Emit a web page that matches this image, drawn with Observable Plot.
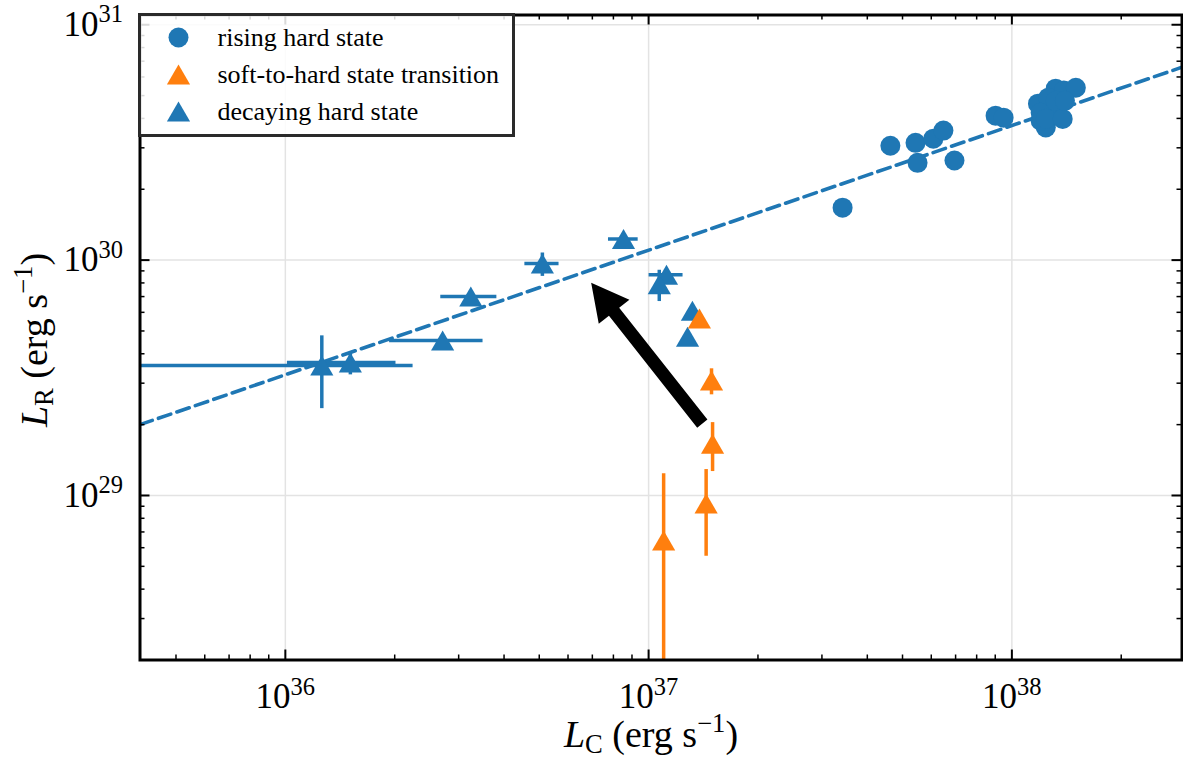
<!DOCTYPE html>
<html><head><meta charset="utf-8">
<script src="https://cdn.jsdelivr.net/npm/d3@7"></script>
<script src="https://cdn.jsdelivr.net/npm/@observablehq/plot@0.6"></script>
<style>body{margin:0;background:#fff} svg{display:block}</style>
</head><body><div id="chart"></div>
<script>
// ---- data ----
const risingLC = [3.42e37,4.63e37,5.43e37,5.50e37,6.08e37,6.48e37,6.95e37,9.02e37,9.49e37,
  1.18e38,1.24e38,1.20e38,1.32e38,1.39e38,1.50e38,1.34e38,1.28e38,1.26e38,1.20e38,1.32e38,1.24e38,1.38e38,1.40e38];
const risingLR = [1.67e30,3.06e30,3.15e30,2.59e30,3.28e30,3.55e30,2.65e30,4.11e30,4.03e30,
  4.62e30,3.66e30,3.91e30,5.35e30,5.25e30,5.40e30,4.11e30,4.40e30,4.90e30,4.23e30,4.75e30,3.99e30,3.98e30,4.75e30];

const decayLC  = [1.26e36,1.51e36,2.71e36,3.24e36,5.10e36,8.53e36,1.12e37,1.07e37,1.32e37,1.28e37];
const decayLCe = [0.98e36,0.50e36,0.78e36,0.57e36,0.55e36,0.80e36,0.12e37,0,0,0];
const decayLR  = [3.57e29,3.67e29,4.55e29,7.00e29,9.67e29,1.23e30,8.67e29,7.90e29,6.10e29,4.73e29];
const decayLRe = [1.22e29,0.40e29,0,0,0.11e30,0,0,0.12e30,0,0];

const transLC  = [1.38e37,1.49e37,1.50e37,1.44e37,1.10e37];
const transLCe = [0,0,0,0,0];
const transLR  = [5.65e29,3.08e29,1.66e29,0.925e29,0.644e29];
const transLRe = [0,0.39e29,0.39e29,0.37e29,0.60e29];

const fitLC = [3.98e35, 2.94e38];
const fitLR = [2.0e29, 6.6e30];

const arrowLC = [1.41e37, 6.97e36]; // tail, tip
const arrowLR = [2.01e29, 7.98e29];

const xMajor = [1e36,1e37,1e38];
const yMajor = [1e29,1e30,1e31];
const xMinor = [5e35,6e35,7e35,8e35,9e35,2e36,3e36,4e36,5e36,6e36,7e36,8e36,9e36,2e37,3e37,4e37,5e37,6e37,7e37,8e37,9e37,2e38];
const yMinor = [3e28,4e28,5e28,6e28,7e28,8e28,9e28,2e29,3e29,4e29,5e29,6e29,7e29,8e29,9e29,2e30,3e30,4e30,5e30,6e30,7e30,8e30,9e30];

const seriesNames = ["rising hard state","soft-to-hard state transition","decaying hard state"];
const seriesColors = ["#1f77b4","#ff7f0e","#1f77b4"];
const seriesSymbols = ["circle","triangle","triangle"];

// ---- tables ----
const rising = risingLC.map((x,i)=>({x, y: risingLR[i]}));
const decay = decayLC.map((x,i)=>({x, xe: decayLCe[i], y: decayLR[i], ye: decayLRe[i]}));
const trans = transLC.map((x,i)=>({x, xe: transLCe[i], y: transLR[i], ye: transLRe[i]}));
const fit = fitLC.map((x,i)=>({x, y: fitLR[i]}));

// bbox-centred triangle (matplotlib "^")
const tri = {draw(ctx, size){ const s = Math.sqrt(size); const w = 0.76*s, h = 0.656*s;
  ctx.moveTo(0,-h); ctx.lineTo(w,h); ctx.lineTo(-w,h); ctx.closePath(); }};

const W = 1183, H = 759, mL = 139.5, mR = 1.5, mT = 14.5, mB = 99.5;
const PH = H - mT - mB, PW = W - mL - mR;
const FONT = "'Liberation Serif','Times New Roman',serif";
const RC = 10, RT = 8.6;

function errMarks(data, color){
  return [
    Plot.link(data.filter(d=>d.xe>0), {x1: d=>d.x-d.xe, x2: d=>d.x+d.xe, y1: "y", y2: "y", stroke: color, strokeWidth: 3.5, clip: true}),
    Plot.link(data.filter(d=>d.ye>0), {x1: "x", x2: "x", y1: d=>d.y-d.ye, y2: d=>d.y+d.ye, stroke: color, strokeWidth: 3.5, clip: true})
  ];
}

function arrowMark(index, scales){
  const x0 = scales.x(arrowLC[0]), y0 = scales.y(arrowLR[0]);
  const x1 = scales.x(arrowLC[1]), y1 = scales.y(arrowLR[1]);
  const dx = x1-x0, dy = y1-y0, L = Math.hypot(dx,dy);
  const ux = dx/L, uy = dy/L, nx = -uy, ny = ux;
  const sw = 6.5, hw = 19.5, hl = 37;
  const bx = x1 - ux*hl, by = y1 - uy*hl;
  const pts = [
    [x0+nx*sw, y0+ny*sw],[bx+nx*sw, by+ny*sw],[bx+nx*hw, by+ny*hw],[x1,y1],
    [bx-nx*hw, by-ny*hw],[bx-nx*sw, by-ny*sw],[x0-nx*sw, y0-ny*sw]];
  const p = document.createElementNS("http://www.w3.org/2000/svg","path");
  p.setAttribute("d","M"+pts.map(q=>q.join(",")).join("L")+"Z");
  p.setAttribute("fill","black");
  return p;
}

const chart = Plot.plot({
  width: W, height: H,
  marginLeft: mL, marginRight: mR, marginTop: mT, marginBottom: mB,
  style: {fontFamily: FONT, background: "white", overflow: "visible"},
  x: {type: "log", domain: [3.98e35, 2.94e38], axis: null},
  y: {type: "log", domain: [2.0e28, 1.1e31], axis: null},
  marks: [
    Plot.ruleX(xMajor, {stroke: "#e3e3e3", strokeWidth: 1.5}),
    Plot.ruleY(yMajor, {stroke: "#e3e3e3", strokeWidth: 1.5}),
    Plot.line(fit, {x: "x", y: "y", stroke: "#1f77b4", strokeWidth: 3.6, strokeDasharray: "13,6.5", clip: true}),
    Plot.dot(rising, {x: "x", y: "y", r: RC, fill: "#1f77b4", symbol: "circle"}),
    ...errMarks(decay, "#1f77b4"),
    Plot.dot(decay, {x: "x", y: "y", r: RT, fill: "#1f77b4", symbol: tri}),
    ...errMarks(trans, "#ff7f0e"),
    Plot.dot(trans, {x: "x", y: "y", r: RT, fill: "#ff7f0e", symbol: tri}),
    arrowMark,
    // ticks (inward, all four sides)
    Plot.ruleX(xMajor, {insetTop: PH-10, stroke: "black", strokeWidth: 2}),
    Plot.ruleX(xMajor, {insetBottom: PH-10, stroke: "black", strokeWidth: 2}),
    Plot.ruleX(xMinor, {insetTop: PH-5, stroke: "black", strokeWidth: 1.5}),
    Plot.ruleX(xMinor, {insetBottom: PH-5, stroke: "black", strokeWidth: 1.5}),
    Plot.ruleY(yMajor, {insetRight: PW-10, stroke: "black", strokeWidth: 2}),
    Plot.ruleY(yMajor, {insetLeft: PW-10, stroke: "black", strokeWidth: 2}),
    Plot.ruleY(yMinor, {insetRight: PW-5, stroke: "black", strokeWidth: 1.5}),
    Plot.ruleY(yMinor, {insetLeft: PW-5, stroke: "black", strokeWidth: 1.5}),
    Plot.frame({stroke: "black", strokeWidth: 3}),
    // tick labels
    Plot.text(xMajor, {x: d=>d, frameAnchor: "bottom", lineAnchor: "bottom", dy: 48, text: d=>"10^"+Math.round(Math.log10(d)), fontSize: 35, fill: "black"}),
    Plot.text(yMajor, {y: d=>d, frameAnchor: "left", textAnchor: "end", dx: -17, text: d=>"10^"+Math.round(Math.log10(d)), fontSize: 35, fill: "black"})
  ]
});

document.getElementById("chart").appendChild(chart);
const svg = d3.select(chart);

// superscripts for tick labels
svg.selectAll("text").filter(function(){ return this.textContent.includes("^"); }).each(function(){
  const t = d3.select(this); const [b, e] = this.textContent.split("^");
  t.selectAll("*").remove();
  t.text(null);
  t.append("tspan").text(b);
  t.append("tspan").attr("dy", "-0.55em").attr("font-size", "0.7em").text(e);
});

// axis labels
function axisLabel(g, sub){
  g.append("tspan").attr("font-style","italic").text("L");
  g.append("tspan").attr("font-size","0.7em").attr("dy", 6).text(sub);
  g.append("tspan").attr("dy", -6).text(" (erg s");
  g.append("tspan").attr("font-size","0.7em").attr("dy", -15).text("\u22121");
  g.append("tspan").attr("dy", 15).text(")");
}
const xl = svg.append("text").attr("x", 651).attr("y", 747).attr("text-anchor","middle")
  .attr("font-family", FONT).attr("font-size", 38).attr("fill","black");
axisLabel(xl, "C");
const yl = svg.append("text").attr("transform", `translate(47,340) rotate(-90)`).attr("text-anchor","middle")
  .attr("font-family", FONT).attr("font-size", 38).attr("fill","black");
axisLabel(yl, "R");

// legend
const lg = svg.append("g").attr("font-family", FONT).attr("text-anchor", "start");
lg.append("rect").attr("x", mL).attr("y", mT).attr("width", 374).attr("height", 121)
  .attr("fill", "white").attr("fill-opacity", 0.85).attr("stroke", "#2a2a2a").attr("stroke-width", 3);
seriesNames.forEach((name, i) => {
  const cy = mT + 23 + i*37;
  const sym = seriesSymbols[i] === "circle" ? d3.symbolCircle : tri;
  const size = seriesSymbols[i] === "circle" ? Math.PI*RC*RC : Math.PI*RT*RT;
  lg.append("path").attr("transform", `translate(${mL+39},${cy})`).attr("d", d3.symbol(sym, size)()).attr("fill", seriesColors[i]);
  lg.append("text").attr("x", mL+78).attr("y", cy + 8).attr("font-size", 26).attr("text-anchor","start").attr("fill","black").text(name);
});
</script>
</body></html>
